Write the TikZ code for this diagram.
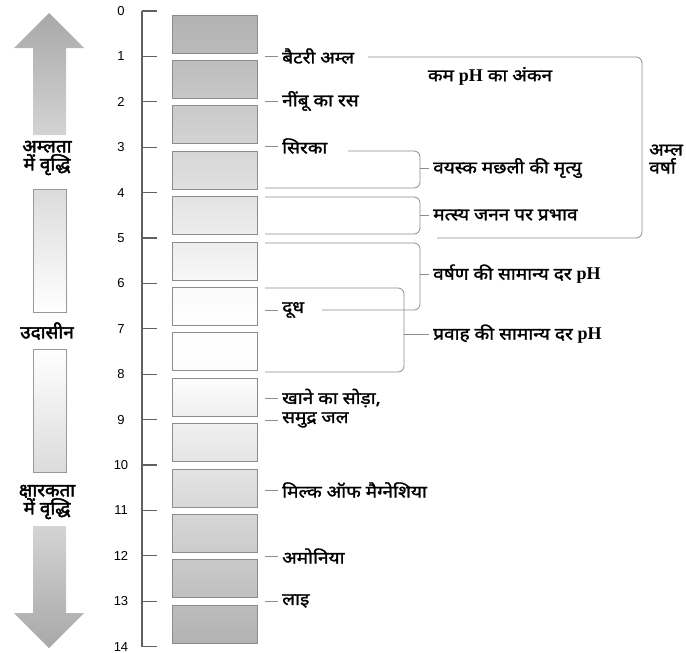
\documentclass[tikz,border=0pt]{standalone}
\usepackage{fontspec}
\setmainfont{Liberation Sans}
\newfontfamily\hin[Script=Devanagari, FakeStretch=1.12, FakeBold=1.5]{Noto Sans}
\newfontfamily\hinb[Script=Devanagari, FakeStretch=1.05, FakeBold=2.5]{Noto Sans}
\newfontfamily\tms{Liberation Serif}
\newcommand\phtxt{{\tms\bfseries\fontsize{18}{18}\selectfont pH}}
\begin{document}
\begin{tikzpicture}[x=1pt,y=-1pt,
  hl/.style={font=\hin\fontsize{17}{18}\selectfont, inner xsep=4pt, inner ysep=1pt, anchor=west},
  side/.style={font=\hinb\fontsize{18}{18}\selectfont, align=center, inner sep=1pt},
  num/.style={font=\fontsize{13}{15}\selectfont, inner sep=1pt},
  scl/.style={draw=black!62, line width=1.2pt},
  conn/.style={draw=black!45, line width=0.7pt},
  brk/.style={draw=black!45, line width=0.8pt, rounded corners=6pt},
  phbox/.style={draw=black!45, line width=0.7pt},
  bar/.style={draw=black!40, line width=0.7pt},
]
\useasboundingbox (0,0) rectangle (686,653);

% ---- left arrows and bars
\shade[top color=white!66!black, bottom color=white!83!black]
  (49,13) -- (84,48) -- (66,48) -- (66,135) -- (33,135) -- (33,48) -- (14,48) -- cycle;
\shade[bar, top color=white!86!black, bottom color=white] (33,189) rectangle (66,312);
\shade[bar, top color=white, bottom color=white!86!black] (33,349) rectangle (66,472);
\shade[top color=white!83!black, bottom color=white!66!black]
  (33,526) -- (66,526) -- (66,613) -- (84,613) -- (49,648) -- (14,613) -- (33,613) -- cycle;

\node[side] (acid) at (47,158) {अम्लता\\में वृद्धि};
\node[side] (neut) at (47,331) {उदासीन};
\node[side] (base) at (47,502) {क्षारकता\\में वृद्धि};

% ---- scale
\foreach \i in {0,...,14}{
  \pgfmathsetmacro\yy{11+45.4*\i}
  \coordinate (t\i) at (142,\yy);
  \node[num] (n\i) at (121,\yy) {\i};
  \draw[scl] (t\i) -- ++(15,0);
}
\draw[scl] (t0) -- (t14);

% ---- pH boxes
\foreach \i in {0,...,13}{
  \pgfmathsetmacro\ya{11+45.4*\i+4}
  \pgfmathsetmacro\yb{11+45.4*(\i+1)-3.5}
  \ifnum\i<7
    \pgfmathtruncatemacro\ga{min(100,70+(\ya-15)/9.5)}
    \pgfmathtruncatemacro\gb{min(100,70+(\yb-15)/9.5)}
  \else
    \pgfmathtruncatemacro\ga{max(70,100-(\ya-370)/9.1667)}
    \pgfmathtruncatemacro\gb{max(70,100-(\yb-370)/9.1667)}
  \fi
  \shade[phbox, top color=white!\ga!black, bottom color=white!\gb!black] (172,\ya) rectangle (257,\yb);
}

% ---- substance labels
\foreach \nm/\yy/\tx in {bat/56/{बैटरी अम्ल}, nimbu/101/{नींबू का रस}, sirka/146/{सिरका},
    doodh/310/{दूध}, soda/398/{खाने का सोड़ा,}, samudra/420/{समुद्र जल},
    milk/490/{मिल्क ऑफ मैग्नेशिया}, amonia/556/{अमोनिया}, lai/601/{लाइ}}{
  \node[hl] (\nm) at (278,\yy) {\tx};
  \coordinate (c\nm) at (265,\yy);
  \draw[conn] (c\nm) -- (\nm.west);
}

% ---- brackets
\draw[brk] (368,57) -- (642,57) -- (642,238) -- (437,238);
\draw[brk] (348,151) -- (420,151) -- (420,188) -- (265,188);
\draw[brk] (265,197) -- (420,197) -- (420,234) -- (265,234);
\draw[brk] (265,243) -- (420,243) -- (420,310) -- (322,310);
\draw[brk] (265,288) -- (404,288) -- (404,372) -- (265,372);

\node[hl] (fish) at (429,168) {वयस्क मछली की मृत्यु};
\node[hl] (breed) at (429,215) {मत्स्य जनन पर प्रभाव};
\node[hl] (rain) at (429,274) {वर्षण की सामान्य दर \phtxt};
\node[hl] (flow) at (429,334) {प्रवाह की सामान्य दर \phtxt};
\coordinate (kA) at (420,168);
\coordinate (kB) at (420,215);
\coordinate (kC) at (420,274);
\coordinate (kD) at (404,334);
\draw[conn] (kA) -- (fish.west);
\draw[conn] (kB) -- (breed.west);
\draw[conn] (kC) -- (rain.west);
\draw[conn] (kD) -- (flow.west);

\node[font=\hin\fontsize{17}{18}\selectfont] (lowph) at (490,76) {कम \phtxt{} का अंकन};
\node[font=\hin\fontsize{17}{18}\selectfont, align=left, anchor=west, inner sep=1pt] (acidrain) at (648,159) {अम्ल\\वर्षा};
\end{tikzpicture}
\end{document}
